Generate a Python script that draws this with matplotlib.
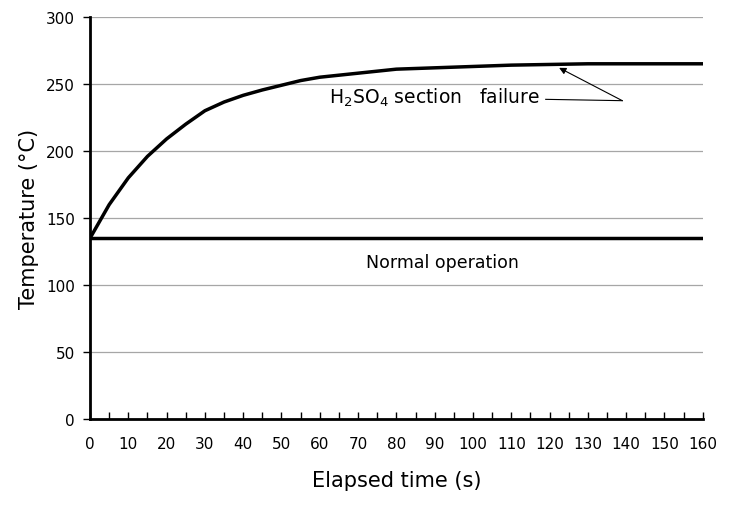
import numpy as np
import matplotlib.pyplot as plt
from matplotlib.ticker import MultipleLocator

###
### Data
###
time_fail = [0, 5, 10, 15, 20, 25, 30, 35, 40, 45, 50, 55, 60, 65, 70, 80,
             90, 100, 110, 120, 130, 140, 150, 160]
temp_fail = [135, 160, 180, 196, 209, 220, 230, 236.5, 241.5, 245.5, 249,
             252.5, 255, 256.5, 258, 261, 262, 263, 264, 264.5, 265, 265,
             265, 265]
time_norm = [0, 160]
temp_norm = [135, 135]

###
### Figure
###
fig = plt.figure(figsize=(7.32, 5.10), dpi=100)
ax = fig.add_axes([0.123, 0.176, 0.837, 0.789])

ax.plot(time_fail, temp_fail, color='black', lw=2.5, zorder=3,
        solid_joinstyle='round')
ax.plot(time_norm, temp_norm, color='black', lw=2.5, zorder=3)

ax.set_xlim(0, 160)
ax.set_ylim(0, 300)
ax.xaxis.set_major_locator(MultipleLocator(10))
ax.xaxis.set_minor_locator(MultipleLocator(5))
ax.yaxis.set_major_locator(MultipleLocator(50))
ax.grid(axis='y', color='#a6a6a6', lw=0.9)
ax.set_axisbelow(True)

for s in ['top', 'right']:
    ax.spines[s].set_visible(False)
for s in ['left', 'bottom']:
    ax.spines[s].set_linewidth(2)

ax.tick_params(axis='x', which='both', direction='in', length=5, width=1,
               labelsize=11, pad=12)
ax.tick_params(axis='y', which='major', direction='out', length=5, width=1,
               labelsize=11, pad=6)

ax.set_xlabel('Elapsed time (s)', fontsize=15, labelpad=14)
ax.set_ylabel('Temperature (\u00b0C)', fontsize=15, labelpad=5)

# labels and arrow
ax.text(92, 117, 'Normal operation', fontsize=12.5, ha='center', va='center')
ax.text(117.5, 240, r'H$_2$SO$_4$ section   failure', fontsize=13.5,
        ha='right', va='center')
ax.plot([119, 139], [238.5, 237.5], color='black', lw=0.8)
ax.annotate('', xy=(122.5, 262), xytext=(139, 237.5),
            arrowprops=dict(arrowstyle='-|>', color='black', lw=0.8,
                            mutation_scale=10, shrinkA=0, shrinkB=0))

fig.savefig('out.png', dpi=100)
